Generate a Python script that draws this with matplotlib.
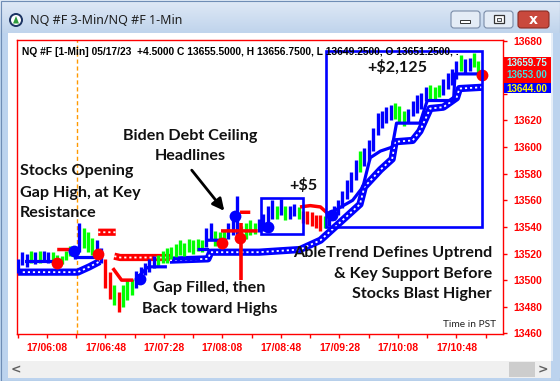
import numpy as np
import matplotlib
matplotlib.use("Agg")
import matplotlib.pyplot as plt
from matplotlib.patches import Rectangle, FancyBboxPatch, Circle, Polygon
from matplotlib.colors import LinearSegmentedColormap

nan = np.nan

# ---------------- data (minutes after midnight PST, prices) ----------------
bar_time = list(range(348, 664, 3))
bar_high = [13516, 13521, 13520, 13522, 13521, 13522, 13522, 13521, 13521, 13519, 13518, 13522, 13526, 13524,
            13543, 13539, 13536, 13532, 13530, 13524,
            13516, 13506, 13496, 13491, 13496, 13500, 13501,
            13507, 13510, 13513, 13516, 13518,
            13519, 13522, 13524, 13525, 13527, 13530, 13528, 13531, 13530, 13531, 13530,
            13539, 13543,
            13537, 13536, 13537,
            13543, 13546, 13563,
            13541, 13543, 13545, 13543,
            13546, 13550, 13556, 13560,
            13556, 13561, 13556, 13556, 13557, 13555,
            13552, 13552, 13551, 13549, 13549,
            13548,
            13552, 13556, 13560, 13567, 13575, 13581, 13590,
            13597,
            13599, 13605, 13614, 13626, 13627, 13630, 13632,
            13633, 13631, 13627,
            13629, 13635, 13639, 13641, 13645,
            13647, 13645, 13647,
            13651, 13656, 13659, 13665,
            13669,
            13666, 13667,
            13671, 13665]
bar_low = [13505, 13511, 13510, 13513, 13512, 13513, 13515, 13513, 13513, 13511, 13512, 13515, 13518, 13516,
           13521, 13524, 13521, 13519, 13518, 13513,
           13494, 13486, 13481, 13476, 13480, 13485, 13489,
           13494, 13498, 13504, 13506, 13509,
           13510, 13513, 13513, 13516, 13517, 13519, 13518, 13521, 13520, 13522, 13521,
           13525, 13530,
           13526, 13524, 13527,
           13531, 13534, 13534,
           13530, 13531, 13534, 13535,
           13536, 13537, 13541, 13546,
           13546, 13549, 13545, 13546, 13548, 13546,
           13543, 13542, 13541, 13539, 13537,
           13539,
           13541, 13545, 13549, 13554, 13561, 13566, 13575,
           13581,
           13586, 13590, 13597, 13609, 13614, 13618, 13620,
           13621, 13618, 13616,
           13618, 13623, 13626, 13629, 13635,
           13636, 13636, 13638,
           13639, 13644, 13647, 13651,
           13657,
           13656, 13657,
           13660, 13653]
bar_trend = list("bbbgbgbbgggggb" "bgggbb" "rrgrggg" "bbbbb" "ggggggggggg" "bb" "ggg" "bbb" "gggg"
                 "bbbb" "gbgbbg" "rrrrr" "g" "bbbbbbb" "g" "bbbbbbb" "ggg" "bbbbb" "ggg" "bbbb" "g" "bb" "gg")

# long-term stop bands (AbleTrend)
blue_band_t = [348, 389, 397, 404, nan, 452, 478, 480, 513, 541, 555, 568, 582, 585, 596, 604, 606, 618, 623, 630, 639, 648, 650, 666]
blue_band_p = [13506, 13506, 13510, 13514, nan, 13515, 13516, 13521, 13521, 13523, 13530, 13543, 13557, 13570, 13583, 13591,
               13604, 13605, 13612, 13629, 13630, 13637, 13644, 13645]
red_band_t = [403, 415, nan, 414, 418, 453]
red_band_p = [13536, 13536, nan, 13518, 13517, 13517]

# short-term stops
blue_stop_t = [353, 373, nan, 387, 404, nan, 431, 436, 438, 450, nan, 454, 472, nan, 471, 479, nan, 478, 491, nan,
               561, 577, 584, 589, 596, 604, 607, 623, 628, 646, 647, 666]
blue_stop_p = [13514, 13514, nan, 13517, 13517, nan, 13503, 13509, 13510, 13510, nan, 13516, 13516, nan, 13523, 13523, nan,
               13530, 13530, nan, 13550, 13560, 13570, 13592, 13597, 13600, 13618, 13618, 13635, 13635, 13655, 13655]
red_stop_t = [375, 385, nan, 413, 419, 427, nan, 487, 512, nan, 500, 507, nan, 541, 548, 555, 560]
red_stop_p = [13523, 13523, nan, 13509, 13500, 13500, nan, 13537, 13537, nan, 13551, 13551, nan, 13555, 13556, 13555, 13550]
red_vline = (501, 13500, 13543)

# signal dots
blue_dot_t = [386.5, 431.6, 496.5, 519, 562.9]
blue_dot_p = [13522, 13501, 13548, 13540, 13549]
red_dot_t = [374.8, 402.9, 487.7, 500, 665.4]
red_dot_p = [13513, 13520, 13528, 13532, 13654]

open_time = 388.5
box_small = (514.3, 543, 13535, 13562)
box_big = (558.8, 665.4, 13539.6, 13672.5)

x_ticks = [368, 408, 448, 488, 528, 568, 608, 648]
x_labels = ["17/06:08", "17/06:48", "17/07:28", "17/08:08", "17/08:48", "17/09:28", "17/10:08", "17/10:48"]
x_minor = [348, 388, 428, 468, 508, 548, 588, 628, 668]
y_ticks = list(range(13460, 13681, 20))
y_hidden = [13660, 13640]          # labels covered by the price boxes
price_boxes = ["13659.75", "13653.00", "13644.00"]

COL = {"b": "#0000ff", "g": "#00ff00", "r": "#ff0000"}
LAB = ["Lato", "DejaVu Sans"]

# ---------------- figure & window chrome ----------------
fig = plt.figure(figsize=(5.6, 3.81), dpi=100)
bg = fig.add_axes([0, 0, 1, 1])
bg.set_zorder(0)
bg.axis("off")
cm = LinearSegmentedColormap.from_list("tb", ["#dfe9f6", "#c0d4ec"])
bg.imshow(np.linspace(0, 1, 40).reshape(-1, 1), extent=[0, 560, 33, 0], cmap=cm, aspect="auto")
bg.set_xlim(0, 560); bg.set_ylim(381, 0)
bg.add_patch(Rectangle((0, 33), 8, 348, fc="#bcd3ee", ec="none"))
bg.add_patch(Rectangle((0, 377), 560, 4, fc="#bcd3ee", ec="none"))
bg.add_patch(Rectangle((8, 33), 544, 328, fc="white", ec="none"))
bg.add_patch(Rectangle((8, 361), 544, 17, fc="#f0f0f0", ec="none"))
bg.add_patch(Rectangle((509, 362), 26, 15, fc="#cdcdcd", ec="none"))
bg.text(16, 369.5, "<", fontsize=9, color="#606060", ha="center", va="center", weight="bold")
bg.text(543, 369.5, ">", fontsize=9, color="#606060", ha="center", va="center", weight="bold")
bg.add_patch(Rectangle((0.5, 0.5), 559, 380, fc="none", ec="#6f8db5", lw=0.8))
# title bar
bg.add_patch(Circle((16, 20), 7, fc="#1d3563", ec="none"))
bg.add_patch(Circle((16, 20), 5, fc="white", ec="none"))
bg.add_patch(Polygon([[13, 23.5], [19, 23.5], [16, 16]], fc="#2e9b3c", ec="none"))
bg.text(30, 20, "NQ #F 3-Min/NQ #F 1-Min", fontsize=9, family="Noto Sans", color="#1e1e1e", va="center")
for x0 in (451, 484):
    bg.add_patch(FancyBboxPatch((x0, 11), 29, 17, boxstyle="round,pad=0,rounding_size=3", fc="#e4ecf6", ec="#7a8ca8", lw=0.8))
bg.add_patch(FancyBboxPatch((518, 11), 31, 17, boxstyle="round,pad=0,rounding_size=3", fc="#c9493d", ec="#8a2b23", lw=0.8))
bg.add_patch(Rectangle((460, 20), 10, 3, fc="white", ec="#333333", lw=0.7))
bg.add_patch(Rectangle((494, 15), 10, 8, fc="white", ec="#333333", lw=0.9))
bg.add_patch(Rectangle((497, 18), 4, 2.5, fc="#e4ecf6", ec="#333333", lw=0.6))
bg.text(533.5, 19.5, "x", fontsize=10, color="white", ha="center", va="center", weight="bold", family="DejaVu Sans")

# ---------------- main chart ----------------
ax = fig.add_axes([17 / 560, 47 / 381, 486 / 560, 294 / 381])
ax.set_zorder(2)
ax.set_facecolor("white")
ax.set_xlim(347.5, 679.8)
ax.set_ylim(13459.5, 13680.5)
for s in ax.spines.values():
    s.set_color("#ff0000"); s.set_linewidth(1)

ax.axvline(open_time, color="#ff9900", lw=1, dashes=(3, 2), zorder=1)

# bands (hatched look)
ax.plot(blue_band_t, blue_band_p, color="#0000ff", lw=5.2, solid_capstyle="butt", zorder=2)
ax.plot(blue_band_t, blue_band_p, color="white", lw=1.3, dashes=(1.2, 1.6), zorder=2.1)
ax.plot(red_band_t, red_band_p, color="#ff0000", lw=5.2, solid_capstyle="butt", zorder=2)
ax.plot(red_band_t, red_band_p, color="white", lw=1.3, dashes=(1.2, 1.6), zorder=2.1)

# price bars
ax.vlines(bar_time, bar_low, bar_high, colors=[COL[c] for c in bar_trend], lw=2.4, zorder=3)

# short stops
ax.plot(blue_stop_t, blue_stop_p, color="#0000ff", lw=2.3, solid_capstyle="butt", zorder=4)
ax.plot(red_stop_t, red_stop_p, color="#ff0000", lw=2.5, solid_capstyle="butt", zorder=4)
ax.vlines([red_vline[0]], [red_vline[1]], [red_vline[2]], colors="#ff0000", lw=2.6, zorder=4)

ax.plot(blue_dot_t, blue_dot_p, "o", color="#0000ff", ms=8.5, mec="none", zorder=5)
ax.plot(red_dot_t, red_dot_p, "o", color="#ff0000", ms=8.5, mec="none", zorder=5)

for (x0, x1, y0, y1) in (box_small, box_big):
    ax.add_patch(Rectangle((x0, y0), x1 - x0, y1 - y0, fc="none", ec="#0000ff", lw=1.9, zorder=6))

ax.set_xticks(x_ticks)
ax.set_xticklabels(x_labels)
ax.set_xticks(x_minor, minor=True)
ax.yaxis.tick_right()
ax.set_yticks(y_ticks)
ax.set_yticklabels(["" if v in y_hidden else str(v) for v in y_ticks])
ax.tick_params(axis="both", which="both", color="#ff0000", length=3.2, width=1,
               labelcolor="#ff0000", labelsize=7.5)
ax.tick_params(axis="x", pad=3)
ax.tick_params(axis="y", pad=4)
for lbl in ax.get_xticklabels() + ax.get_yticklabels():
    lbl.set_fontweight("bold"); lbl.set_family("Liberation Sans")

ax.text(0.01, 0.95, "NQ #F [1-Min] 05/17/23  +4.5000 C 13655.5000, H 13656.7500, L 13649.2500, O 13651.2500, .",
        transform=ax.transAxes, fontsize=7.4, weight="bold", family="Liberation Sans", color="black",
        va="baseline", zorder=7, clip_on=True)

# ---------------- overlay (annotations & price boxes) ----------------
ov = fig.add_axes([0, 0, 1, 1])
ov.set_zorder(3)
ov.patch.set_alpha(0)
ov.axis("off")
ov.set_xlim(0, 560); ov.set_ylim(381, 0)

def note(x, y, s, ha="left", size=11.6):
    ov.text(x, y, s, ha=ha, va="baseline", fontsize=size, weight="bold", family=LAB, color="#111111")

note(20, 175, "Stocks Opening"); note(20, 197, "Gap High, at Key"); note(20, 217, "Resistance")
note(190, 140, "Biden Debt Ceiling", ha="center"); note(190, 160, "Headlines", ha="center")
note(209, 292, "Gap Filled, then", ha="center"); note(210, 313, "Back toward Highs", ha="center")
note(492, 257, "AbleTrend Defines Uptrend", ha="right")
note(492, 278, "& Key Support Before", ha="right")
note(492, 298, "Stocks Blast Higher", ha="right")
note(303, 190, "+$5", ha="center")
note(397, 72, "+$2,125", ha="center")
ov.text(496, 327, "Time in PST", ha="right", va="baseline", fontsize=7.3, family=LAB, color="#222222")
ov.annotate("", xy=(226, 213), xytext=(190, 168),
            arrowprops=dict(arrowstyle="-|>,head_length=0.7,head_width=0.35", color="black", lw=2))

ov.add_patch(Rectangle((504, 57), 47, 27, fc="#ff0000", ec="none"))
ov.add_patch(Rectangle((504, 83), 47, 10, fc="#0000ff", ec="none"))
for y, txt, c in zip((63, 74.5, 88.5), price_boxes, ("#b0ffff", "#40e0e0", "#ffff00")):
    ov.text(506, y, txt, fontsize=7, weight="bold", family="Liberation Sans", color=c, va="center")
ov.add_patch(Rectangle((551, 33), 9, 345, fc="#bcd3ee", ec="none", zorder=5))
ov.add_patch(Rectangle((550.5, 33), 2, 328, fc="#e6eef8", ec="none", zorder=5))

fig.savefig("out.png", dpi=100)
